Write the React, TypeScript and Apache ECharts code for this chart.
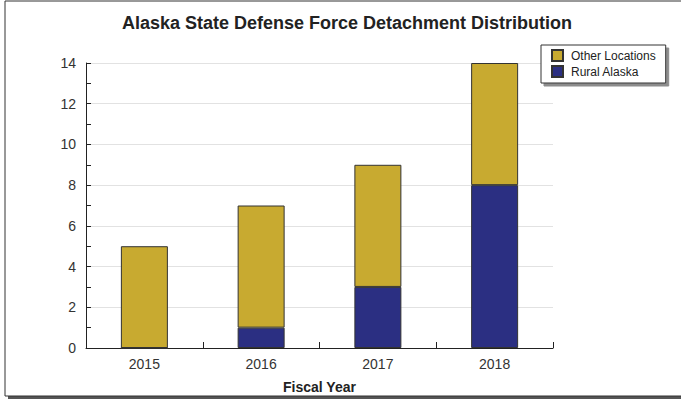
import React, { useEffect, useRef } from "react";
import * as echarts from "echarts";

const categories = ["2015", "2016", "2017", "2018"];
const ruralAlaska = [0, 1, 3, 8];
const otherLocations = [5, 6, 6, 6];
const titleText = "Alaska State Defense Force Detachment Distribution";

const FONT = "Liberation Sans, Arial, sans-serif";

export default function App() {
  const ref = useRef<HTMLDivElement>(null);
  useEffect(() => {
    if (!ref.current) return;
    const chart = echarts.init(ref.current, null, { renderer: "svg" });
    chart.setOption({
      animation: false,
      backgroundColor: "#fff",
      textStyle: { fontFamily: FONT },
      graphic: [
        { type: "rect", z: -10, silent: true, shape: { x: 8, y: 4, width: 700, height: 395 }, style: { fill: "#555" } },
        { type: "rect", z: -9, silent: true, shape: { x: 5, y: 1, width: 700, height: 395 }, style: { fill: "#fff", stroke: "#333", lineWidth: 1 } },
        {
          type: "text",
          x: 347,
          y: 23,
          style: {
            text: titleText,
            fontSize: 18,
            fontWeight: "bold",
            fontFamily: FONT,
            fill: "#222",
            align: "center",
            verticalAlign: "middle",
          },
        },
      ],
      legend: {
        orient: "vertical",
        left: 541,
        top: 45,
        padding: [4, 10, 5, 10],
        itemGap: 3,
        itemWidth: 11,
        itemHeight: 11,
        backgroundColor: "#fff",
        borderColor: "#333",
        borderWidth: 1,
        borderRadius: 0,
        shadowColor: "rgba(0,0,0,0.45)",
        shadowOffsetX: 3,
        shadowOffsetY: 3,
        shadowBlur: 0,
        textStyle: { fontSize: 12, color: "#222", fontFamily: FONT, padding: [0, 0, 0, 3] },
        data: [
          { name: "Other Locations", icon: "rect" },
          { name: "Rural Alaska", icon: "rect" },
        ],
      },
      grid: { left: 86, top: 63, width: 467, height: 285, outerBoundsMode: "none", containLabel: false },
      xAxis: {
        type: "category",
        data: categories,
        name: "Fiscal Year",
        nameLocation: "middle",
        nameGap: 32,
        nameTextStyle: { fontSize: 14, fontWeight: "bold", color: "#222", fontFamily: FONT },
        axisLine: { show: true, lineStyle: { color: "#222" } },
        axisTick: { show: true, inside: true, alignWithLabel: false, length: 6, lineStyle: { color: "#222", width: 1 } },
        axisLabel: { fontSize: 14, color: "#333", margin: 9, fontFamily: FONT },
      },
      yAxis: {
        type: "value",
        min: 0,
        max: 14,
        interval: 2,
        axisLine: { show: true, lineStyle: { color: "#222" } },
        axisTick: { show: true, inside: true, length: 5, lineStyle: { color: "#222" } },
        minorTick: { show: true, splitNumber: 2, length: 5, lineStyle: { color: "#222" } },
        splitLine: { show: true, lineStyle: { color: "#e2e2e2" } },
        axisLabel: { fontSize: 14, color: "#333", margin: 10, fontFamily: FONT },
      },
      series: [
        {
          name: "Rural Alaska",
          type: "bar",
          stack: "total",
          barWidth: 47,
          data: ruralAlaska,
          itemStyle: { color: "#2B2F82", borderColor: "#333", borderWidth: 1 },
        },
        {
          name: "Other Locations",
          type: "bar",
          stack: "total",
          barWidth: 47,
          data: otherLocations,
          itemStyle: { color: "#C8AA30", borderColor: "#333", borderWidth: 1 },
        },
      ],
    });
    return () => chart.dispose();
  }, []);
  return (
    <div
      ref={ref}
      style={{ position: "fixed", left: 0, top: 0, width: 681, height: 400 }}
    />
  );
}
